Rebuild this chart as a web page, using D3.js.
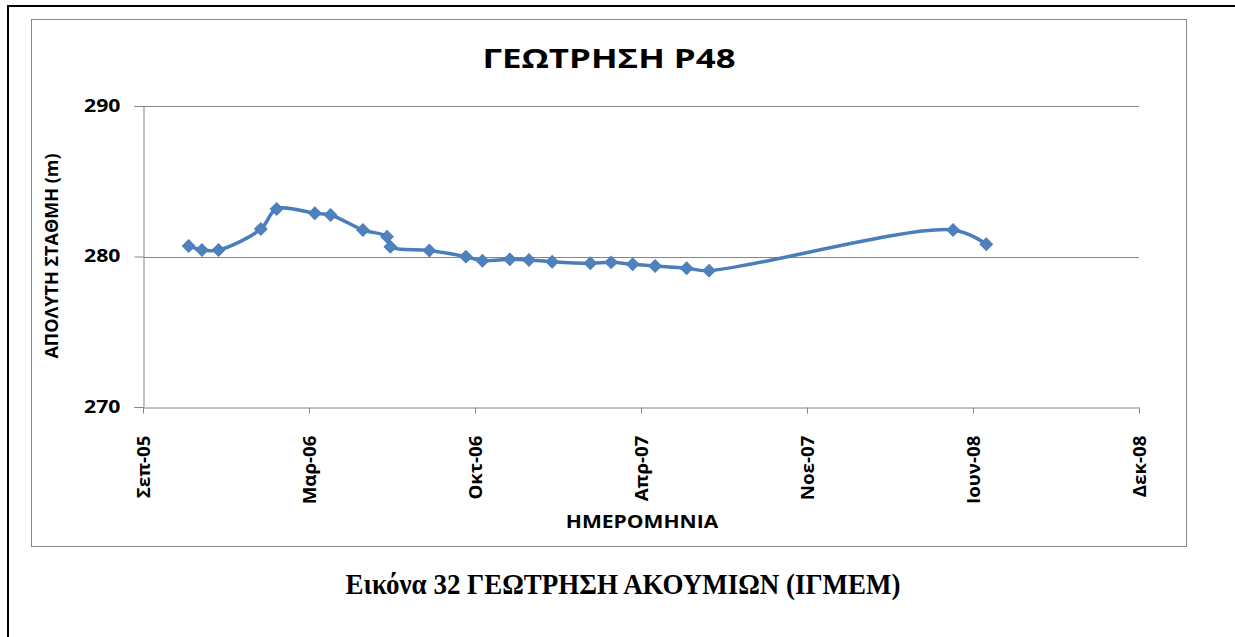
<!DOCTYPE html>
<html>
<head>
<meta charset="utf-8">
<script src="https://cdn.jsdelivr.net/npm/d3@7"></script>
<style>
  body { margin: 0; background: #fff; }
  text { font-family: "Open Sans", "Noto Sans", sans-serif; font-weight: bold; fill: #000; }
</style>
</head>
<body>
<script>
// measurement dates and water level (m)
const dates = ["2005-10-30","2005-11-15","2005-12-05","2006-01-25","2006-02-13","2006-03-31",
  "2006-04-19","2006-05-28","2006-06-26","2006-06-30","2006-08-16","2006-09-29","2006-10-19",
  "2006-11-21","2006-12-14","2007-01-11","2007-02-26","2007-03-23","2007-04-18","2007-05-15",
  "2007-06-22","2007-07-19","2008-05-08","2008-06-17"];
const levels = [280.70, 280.43, 280.43, 281.83, 283.16, 282.87, 282.76, 281.76, 281.32, 280.65,
  280.40, 279.99, 279.72, 279.81, 279.77, 279.65, 279.55, 279.61, 279.48, 279.37,
  279.22, 279.06, 281.76, 280.81];

// x axis: Excel date axis, major unit 200 days
const tickDates = ["2005-09-05","2006-03-24","2006-10-10","2007-04-28","2007-11-14","2008-06-01","2008-12-18"];
const tickLabels = ["Σεπ-05","Μαρ-06","Οκτ-06","Απρ-07","Νοε-07","Ιουν-08","Δεκ-08"];
const yTicks = [270, 280, 290];

const W = 1235, H = 637;
const parse = d3.utcParse("%Y-%m-%d");
const data = dates.map((d, i) => ({ date: parse(d), value: levels[i] }));

const svg = d3.select("body").append("svg")
  .attr("width", W).attr("height", H);

// page frame
svg.append("path")
  .attr("d", "M8," + H + "V6H" + W)
  .attr("fill", "none").attr("stroke", "#000").attr("stroke-width", 2);

// chart area
svg.append("rect")
  .attr("x", 31.5).attr("y", 19.5).attr("width", 1155).attr("height", 527)
  .attr("fill", "#fff").attr("stroke", "#868686").attr("stroke-width", 1);

const x = d3.scaleUtc()
  .domain([parse(tickDates[0]), parse(tickDates[tickDates.length - 1])])
  .range([143, 1139]);
const y = d3.scaleLinear().domain([270, 290]).range([407, 106]);

// gridlines + y axis
const yAxis = svg.append("g")
  .attr("transform", "translate(143.5,0)")
  .call(d3.axisLeft(y).tickValues(yTicks).tickSize(9).tickFormat(d3.format("d")));
yAxis.select(".domain").attr("stroke", "#868686");
yAxis.selectAll(".tick line").attr("stroke", "#868686");
yAxis.selectAll(".tick text")
  .style("font-size", "17px")
  .attr("x", 0)
  .attr("transform", "translate(-23,0) scale(1.25,1)");
svg.append("g")
  .selectAll("line")
  .data(yTicks.filter(d => d !== 270))
  .join("line")
  .attr("x1", 143).attr("x2", 1139)
  .attr("y1", d => Math.round(y(d)) + 0.5).attr("y2", d => Math.round(y(d)) + 0.5)
  .attr("stroke", "#868686");

// x axis
const xAxis = svg.append("g")
  .attr("transform", "translate(0," + (Math.round(y(270)) + 0.5) + ")")
  .call(d3.axisBottom(x)
    .tickValues(tickDates.map(parse))
    .tickSize(6)
    .tickSizeOuter(0)
    .tickFormat((d, i) => tickLabels[i]));
xAxis.select(".domain").attr("stroke", "#868686");
xAxis.selectAll(".tick line").attr("stroke", "#868686");
xAxis.selectAll(".tick text")
  .style("font-size", "18px")
  .attr("transform", "rotate(-90) scale(1.04,1)")
  .attr("text-anchor", "end")
  .attr("x", -27).attr("y", 0).attr("dy", "0.36em");

// series
const line = d3.line()
  .x(d => x(d.date)).y(d => y(d.value))
  .curve(d3.curveCatmullRom.alpha(0.5));
svg.append("path")
  .datum(data)
  .attr("d", line)
  .attr("fill", "none")
  .attr("stroke", "#4A7EBB")
  .attr("stroke-width", 3.5)
  .attr("stroke-linejoin", "round");

svg.append("g")
  .selectAll("path")
  .data(data)
  .join("path")
  .attr("d", d3.symbol(d3.symbolSquare, 78))
  .attr("transform", d => "translate(" + x(d.date) + "," + y(d.value) + ") rotate(45)")
  .attr("fill", "#4F81BD")
  .attr("stroke", "#4A7EBB")
  .attr("stroke-width", 1);

// titles
svg.append("text")
  .attr("transform", "translate(609,68) scale(1.29,1)")
  .attr("text-anchor", "middle")
  .style("font-size", "27px")
  .text("ΓΕΩΤΡΗΣΗ P48");

svg.append("text")
  .attr("transform", "translate(58,256) rotate(-90)")
  .attr("text-anchor", "middle")
  .style("font-size", "18px")
  .text("ΑΠΟΛΥΤΗ ΣΤΑΘΜΗ (m)");

svg.append("text")
  .attr("transform", "translate(642,528) scale(1.24,1)")
  .attr("text-anchor", "middle")
  .style("font-size", "17px")
  .text("ΗΜΕΡΟΜΗΝΙΑ");

svg.append("text")
  .attr("transform", "translate(623,594) scale(0.93,1)")
  .attr("text-anchor", "middle")
  .style("font-family", "'Liberation Serif', 'Times New Roman', serif")
  .style("font-size", "29px")
  .text("Εικόνα 32 ΓΕΩΤΡΗΣΗ ΑΚΟΥΜΙΩΝ (ΙΓΜΕΜ)");
</script>
</body>
</html>
